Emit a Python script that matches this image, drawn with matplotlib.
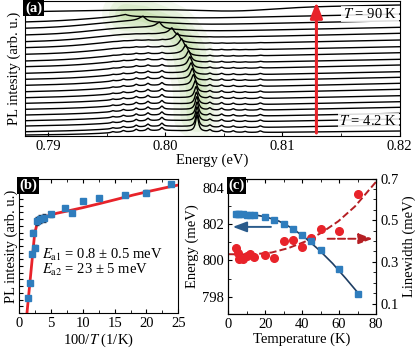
import numpy as np
import matplotlib
matplotlib.use("Agg")
import matplotlib.pyplot as plt
from matplotlib.ticker import MultipleLocator, NullLocator, NullFormatter

plt.rcParams["font.family"] = ["Liberation Serif", "DejaVu Serif"]
plt.rcParams["mathtext.fontset"] = "stix"
plt.rcParams["font.size"] = 10.5
plt.rcParams["axes.linewidth"] = 0.8

# ---- (a) PL spectra, bottom (4.2 K) -> top (90 K), heights in arb. u.
spec_left = [1, 4.3, 10, 15.3, 21, 26.7, 32.7, 38.3, 44.3, 50.7, 56.7, 62.7, 69.3, 75, 81.7, 88.3, 94.3, 101, 107.7, 114, 124.3]
spec_right = [5, 11, 17, 22.7, 28.7, 34.3, 40.3, 46.7, 52.7, 58.7, 64.3, 71, 76.7, 83.3, 89.3, 96, 102.7, 108.7, 115.3, 122, 131]
peak_E = [0.8027, 0.8027, 0.8027, 0.8027, 0.80268, 0.80265, 0.80262, 0.80255, 0.8024, 0.8023, 0.8022,
          0.8021, 0.8020, 0.80175, 0.8014, 0.80105, 0.80056, 0.7995, 0.7981, 0.7966, 0.7960]
peak_amp = [16, 15, 14, 13.5, 13, 12, 11, 10.5, 10, 9.5, 9, 8.5, 8, 7.5, 7, 6, 5, 4, 3.5, 1.5, 0]
peak_w = [0.00015, 0.00015, 0.00016, 0.00016, 0.00017, 0.00017, 0.00018, 0.00018, 0.0002, 0.0002, 0.00021,
          0.00022, 0.00023, 0.00025, 0.00027, 0.00029, 0.0003, 0.00035, 0.0004, 0.0006, 0.001]
peak_tail = [0, 0, 0, 0, 0, 0, 0.05, 0.1, 0.15, 0.2, 0.25, 0.3, 0.35, 0.4, 0.45, 0.5, 0.55, 0.6, 0.6, 0.6, 0]
hump_E = [0.7995, 0.7995, 0.7995, 0.7994, 0.7993, 0.7992, 0.7991, 0.799, 0.7988, 0.7986, 0.7984,
          0.7982, 0.798, 0.7978, 0.7976, 0.7974, 0.7972, 0.797, 0.7968, 0.7966, 0.806]
hump_amp = [3, 3, 3, 3, 3, 3, 3, 3.2, 3.4, 3.6, 3.8, 4, 4.2, 4.4, 4.6, 4.8, 5, 5, 4.5, 3, -3]
side_E = [0.7955, 0.7964, 0.7975, 0.7985, 0.7997, 0.8038, 0.8048, 0.8058, 0.8068, 0.8081]
side_amp = [1, 1.5, 2, 2.5, 3, 2, 2, 1.5, 1, 1.5]
side_scale = [1, 1, 1, 1, 1, 1, 0.95, 0.9, 0.85, 0.8, 0.7, 0.6, 0.5, 0.4, 0.3, 0.2, 0.1, 0, 0, 0, 0]

# ---- (b) integrated PL vs 100/T
inv_T = [1.43, 1.67, 2.0, 2.22, 2.5, 2.86, 3.33, 4.0, 5.0, 7.14, 8.33, 10.0, 12.5, 16.67, 20.0, 23.8]
pl_int = [0.114, 0.226, 0.438, 0.599, 0.487, 0.689, 0.699, 0.711, 0.737, 0.786, 0.744, 0.836, 0.860, 0.881, 0.899, 0.963]
pl_err = [0.015, 0.015, 0.015, 0.02, 0.02, 0.03, 0.03, 0.03, 0.02, 0.015, 0.015, 0.015, 0.015, 0.015, 0.015, 0.015]
fit_x = [1.25, 2.45, 2.75, 3.1, 3.6, 4.5, 6.0, 8.0, 10.0, 12.7, 15.3, 17.9, 20.6, 23.2, 25.0]
fit_y = [0.0, 0.59, 0.65, 0.685, 0.705, 0.725, 0.745, 0.765, 0.786, 0.817, 0.848, 0.88, 0.91, 0.937, 0.955]

# ---- (c) peak energy and linewidth vs T
temp = [4.2, 5, 6, 8, 10, 12, 14, 20, 25, 30, 35, 40, 45, 50, 60, 70]
energy = [802.57, 802.57, 802.55, 802.53, 802.52, 802.5, 802.5, 802.39, 802.2, 802.02, 801.75, 801.42, 801.05, 800.56, 799.5, 798.14]
width = [0.368, 0.345, 0.313, 0.316, 0.329, 0.337, 0.324, 0.334, 0.318, 0.399, 0.405, 0.372, 0.416, 0.458, 0.45, 0.624]
efit_T = [4.2, 8.0, 13.2, 20.4, 27.6, 34.9, 42.1, 49.3, 56.5, 63.7, 70.0]
efit_E = [802.57, 802.56, 802.52, 802.39, 802.15, 801.75, 801.2, 800.56, 799.83, 799.0, 798.24]
wfit_T = [0, 8, 14.4, 23.5, 32.5, 41.5, 50.5, 59.6, 68.6, 80]
wfit_W = [0.337, 0.336, 0.337, 0.345, 0.366, 0.397, 0.44, 0.495, 0.566, 0.684]

RED = "#e8232a"
BLUE = "#2f7dbd"
NAVY = "#1d3d63"
DRED = "#b51f24"

fig = plt.figure(figsize=(4.15, 3.51), dpi=100)
ax_a = fig.add_axes([0.0602, 0.6125, 0.9025, 0.3846])
ax_b = fig.add_axes([0.0458, 0.1083, 0.3839, 0.3818])
ax_c = fig.add_axes([0.5501, 0.1054, 0.3559, 0.3860])


def panel_tag(ax, s):
    ax.text(0.0, 1.0, s, transform=ax.transAxes, ha="left", va="top", color="white",
            fontweight="bold", fontsize=10.5,
            bbox=dict(boxstyle="square,pad=0.12", fc="black", ec="none"), zorder=10)


# (a)
E = np.linspace(0.788, 0.82, 2000)
glow_x, glow_y = [], []
for i in range(len(spec_left)):
    y = spec_left[i] + (spec_right[i] - spec_left[i]) * (E - 0.788) / 0.032
    y = y + hump_amp[i] * np.exp(-((E - hump_E[i]) / 0.0045) ** 2)
    d = E - peak_E[i]
    g = peak_w[i]
    y = y + peak_amp[i] * g ** 2 / (d ** 2 + g ** 2)
    y = y + peak_tail[i] * peak_amp[i] * np.where(d < 0, np.exp(d / 0.0012), np.exp(-d / 0.00015))
    for se, sa in zip(side_E, side_amp):
        y = y + side_scale[i] * sa * 0.00015 ** 2 / ((E - se) ** 2 + 0.00015 ** 2)
    ax_a.plot(E, y, color="black", lw=1.0, zorder=3)
    if peak_amp[i] > 0:
        glow_x.append(peak_E[i])
        glow_y.append(np.interp(peak_E[i], E, y))
for lw, al in [(34, 0.10), (24, 0.12), (15, 0.14), (8, 0.16)]:
    ax_a.plot(glow_x, glow_y, color="#8fc45f", lw=lw, alpha=al, solid_capstyle="round", zorder=1)

ax_a.annotate("", xy=(0.8129, 134), xytext=(0.8129, 3),
              arrowprops=dict(arrowstyle="-|>,head_length=0.9,head_width=0.35", color=RED, lw=2.2,
                              shrinkA=0, shrinkB=0), zorder=6)
ax_a.text(0.8198, 122, "$T$ = 90 K", ha="right", va="center", fontsize=10.5, zorder=7,
          bbox=dict(boxstyle="square,pad=0.1", fc="white", ec="none", alpha=0.85))
ax_a.text(0.8198, 15, "$T$ = 4.2 K", ha="right", va="center", fontsize=10.5, zorder=7,
          bbox=dict(boxstyle="square,pad=0.1", fc="white", ec="none", alpha=0.85))
ax_a.set_xlim(0.788, 0.82)
ax_a.set_ylim(0, 135)
ax_a.xaxis.set_minor_locator(MultipleLocator(0.005))
ax_a.set_xticks([0.79, 0.80, 0.81, 0.82])
ax_a.set_xticklabels(["0.79", "0.80", "0.81", "0.82"])
ax_a.yaxis.set_major_locator(NullLocator())
ax_a.tick_params(which="both", direction="in", length=3, pad=3)
ax_a.tick_params(which="minor", length=2)
ax_a.set_xlabel("Energy (eV)", labelpad=0)
ax_a.set_ylabel("PL intesity (arb. u.)", labelpad=3)
panel_tag(ax_a, "(a)")

# (b)
ax_b.plot(fit_x, fit_y, color=RED, lw=2.0, zorder=2)
ax_b.errorbar(inv_T, pl_int, yerr=pl_err, fmt="s", ms=5, color=BLUE, ecolor="#1f3550",
              elinewidth=0.8, capsize=1.5, zorder=3)
ax_b.text(3.6, 0.43, "$E_{\\rm a1}$ = 0.8 ± 0.5 meV", fontsize=10.5, va="center")
ax_b.text(3.6, 0.32, "$E_{\\rm a2}$ = 23 ± 5 meV", fontsize=10.5, va="center")
ax_b.set_xlim(0, 25)
ax_b.set_ylim(0, 1)
ax_b.xaxis.set_major_locator(MultipleLocator(5))
ax_b.xaxis.set_minor_locator(MultipleLocator(2.5))
ax_b.yaxis.set_major_locator(MultipleLocator(0.05))
ax_b.yaxis.set_major_formatter(NullFormatter())
ax_b.tick_params(which="both", direction="in", top=True, length=3, pad=3)
ax_b.tick_params(which="minor", length=2)
ax_b.tick_params(axis="y", pad=0)
ax_b.set_xlabel("100/$T$ (1/K)", labelpad=1)
ax_b.set_ylabel("PL intesity (arb. u.)", labelpad=0.5)
panel_tag(ax_b, "(b)")

# (c)
ax_c.plot(efit_T, efit_E, color=NAVY, lw=1.2, zorder=3)
ax_c.plot(temp, energy, "s", ms=5, color=BLUE, zorder=4)
ax_c.annotate("", xy=(2.4, 801.84), xytext=(23.1, 801.84),
              arrowprops=dict(arrowstyle="-|>,head_length=0.8,head_width=0.3", color="#2b5c8c", lw=1.4,
                              shrinkA=0, shrinkB=0))
ax_c.set_xlim(0, 80)
ax_c.set_ylim(797.05, 804.5)
ax_c.yaxis.set_major_locator(MultipleLocator(2))
ax_c.yaxis.set_minor_locator(MultipleLocator(1))
ax_c.xaxis.set_major_locator(MultipleLocator(20))
ax_c.xaxis.set_minor_locator(MultipleLocator(10))
ax_c.tick_params(which="both", direction="in", top=True, length=3, pad=3)
ax_c.tick_params(which="minor", length=2)
ax_c.set_xlabel("Temperature (K)", labelpad=1)
ax_c.set_ylabel("Energy (meV)", labelpad=2)
panel_tag(ax_c, "(c)")

ax_w = ax_c.twinx()
ax_w.plot(wfit_T, wfit_W, "--", color=DRED, lw=1.4, zorder=2)
ax_w.plot(temp, width, "o", ms=5.5, color=RED, zorder=3)
ax_w.annotate("", xy=(78.2, 0.411), xytext=(53.8, 0.411),
              arrowprops=dict(arrowstyle="-|>,head_length=0.8,head_width=0.3", color=DRED, lw=1.4,
                              linestyle="--", shrinkA=0, shrinkB=0))
ax_w.set_ylim(0.05, 0.70)
ax_w.set_yticks([0.1, 0.3, 0.5, 0.7])
ax_w.set_yticklabels(["0.1", "0.3", "0.5", "0.7"])
ax_w.yaxis.set_minor_locator(MultipleLocator(0.05))
ax_w.tick_params(which="both", direction="in", length=3, pad=3)
ax_w.tick_params(which="minor", length=2)
ax_w.set_ylabel("Linewidth (meV)", labelpad=3)
ax_w.set_zorder(ax_c.get_zorder() - 1)
ax_c.patch.set_visible(False)

fig.savefig("out.png", dpi=100)
